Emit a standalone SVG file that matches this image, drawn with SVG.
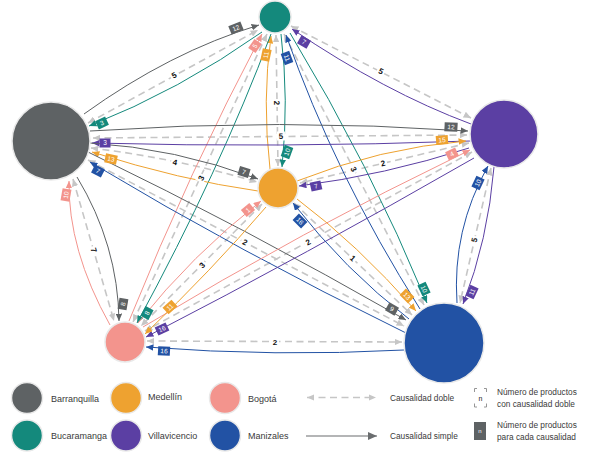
<svg xmlns="http://www.w3.org/2000/svg" width="589" height="462" viewBox="0 0 589 462">
<style>
.dbl{fill:none;stroke:#c6c6c6;stroke-width:1.6;stroke-dasharray:7 4.5;marker-start:url(#ad);marker-end:url(#ad)}
.s{fill:none;stroke-width:1}
.gy{stroke:#5e6264;marker-end:url(#agy)}
.tl{stroke:#14897c;marker-end:url(#atl)}
.pu{stroke:#5b3fa3;marker-end:url(#apu)}
.or{stroke:#eea230;marker-end:url(#aor)}
.pk{stroke:#f3948d;marker-end:url(#apk)}
.bl{stroke:#2252a4;marker-end:url(#abl)}
.nb text{font-family:"Liberation Sans",Arial,sans-serif;font-size:6.5px;fill:#fff;text-anchor:middle}
.dl rect{fill:#fff}
.dl text{font-family:"Liberation Sans",Arial,sans-serif;font-size:8px;font-weight:bold;fill:#111;text-anchor:middle}
.lg{font-family:"Liberation Sans",Arial,sans-serif;font-size:9px;fill:#3a3a3a}
.lg2{font-family:"Liberation Sans",Arial,sans-serif;font-size:8.3px;fill:#3a3a3a}
.nd{stroke:#e9e9e9;stroke-width:1.5}
</style>
<defs>
<marker id="ad" viewBox="0 0 8 7" refX="8" refY="3.5" markerWidth="7.5" markerHeight="6.5" markerUnits="userSpaceOnUse" orient="auto-start-reverse"><path d="M0,0 L8,3.5 L0,7 z" fill="#c6c6c6"/></marker>
<marker id="agy" viewBox="0 0 8 7" refX="8" refY="3.5" markerWidth="7.5" markerHeight="6.5" markerUnits="userSpaceOnUse" orient="auto"><path d="M0,0 L8,3.5 L0,7 z" fill="#5e6264"/></marker>
<marker id="atl" viewBox="0 0 8 7" refX="8" refY="3.5" markerWidth="7.5" markerHeight="6.5" markerUnits="userSpaceOnUse" orient="auto"><path d="M0,0 L8,3.5 L0,7 z" fill="#14897c"/></marker>
<marker id="apu" viewBox="0 0 8 7" refX="8" refY="3.5" markerWidth="7.5" markerHeight="6.5" markerUnits="userSpaceOnUse" orient="auto"><path d="M0,0 L8,3.5 L0,7 z" fill="#5b3fa3"/></marker>
<marker id="aor" viewBox="0 0 8 7" refX="8" refY="3.5" markerWidth="7.5" markerHeight="6.5" markerUnits="userSpaceOnUse" orient="auto"><path d="M0,0 L8,3.5 L0,7 z" fill="#eea230"/></marker>
<marker id="apk" viewBox="0 0 8 7" refX="8" refY="3.5" markerWidth="7.5" markerHeight="6.5" markerUnits="userSpaceOnUse" orient="auto"><path d="M0,0 L8,3.5 L0,7 z" fill="#f3948d"/></marker>
<marker id="abl" viewBox="0 0 8 7" refX="8" refY="3.5" markerWidth="7.5" markerHeight="6.5" markerUnits="userSpaceOnUse" orient="auto"><path d="M0,0 L8,3.5 L0,7 z" fill="#2252a4"/></marker>
<marker id="alg" viewBox="0 0 8 7" refX="8" refY="3.5" markerWidth="9" markerHeight="8" markerUnits="userSpaceOnUse" orient="auto"><path d="M0,0 L8,3.5 L0,7 z" fill="#6a6d6f"/></marker>
</defs>
<rect width="589" height="462" fill="#fff"/>

<g id="connectors">
<path class="dbl" d="M88 123 L258 30"/>
<path class="dbl" d="M291 26 L471 118"/>
<path class="dbl" d="M276 35 L278 166"/>
<path class="dbl" d="M267 34 L133 322"/>
<path class="dbl" d="M284 34 L424 305"/>
<path class="dbl" d="M93 138 L467 135"/>
<path class="dbl" d="M91 148 Q175 158 257 182"/>
<path class="dbl" d="M73 179 L114 321"/>
<path class="dbl" d="M88 160 L404 326"/>
<path class="dbl" d="M469 143 L300 183"/>
<path class="dbl" d="M472 152 L145 331"/>
<path class="dbl" d="M491 168 L460 303"/>
<path class="dbl" d="M262 204 L141 326"/>
<path class="dbl" d="M294 203 L412 315"/>
<path class="dbl" d="M147 341 L402 342"/>

<path class="s gy" d="M84 114 Q170 52 259 25"/>
<path class="s tl" d="M262 32 Q180 90 89 126"/>
<path class="s pu" d="M471 124 Q385 92 292 29"/>
<path class="s or" d="M270 169 Q262 100 271 36"/>
<path class="s tl" d="M281 34 Q289 100 282 167"/>
<path class="s pk" d="M129 321 Q190 170 262 34"/>
<path class="s tl" d="M271 34 Q220 170 137 323"/>
<path class="s bl" d="M420 309 Q335 175 286 35"/>
<path class="s tl" d="M290 33 Q370 165 427 303"/>
<path class="s gy" d="M90 131 Q280 118 468 131"/>
<path class="s pu" d="M470 141 Q280 148 92 143"/>
<path class="s gy" d="M90 143 Q175 148 258 179"/>
<path class="s or" d="M258 191 Q180 180 92 152"/>
<path class="s pk" d="M110 325 Q68 250 69 181"/>
<path class="s gy" d="M77 177 Q118 245 119 321"/>
<path class="s gy" d="M88 152 Q245 228 406 320"/>
<path class="s bl" d="M406 333 Q240 252 90 162"/>
<path class="s or" d="M297 181 Q380 148 466 141"/>
<path class="s pu" d="M469 148 Q385 175 299 186"/>
<path class="s pk" d="M143 327 Q300 232 470 150"/>
<path class="s pu" d="M474 158 Q305 255 146 337"/>
<path class="s bl" d="M457 303 Q452 230 488 166"/>
<path class="s pu" d="M494 167 Q488 240 463 304"/>
<path class="s pk" d="M138 323 Q192 255 261 201"/>
<path class="s or" d="M266 207 Q212 270 145 334"/>
<path class="s or" d="M297 199 Q357 244 416 311"/>
<path class="s bl" d="M409 319 Q345 270 293 203"/>
<path class="s bl" d="M404 350 Q275 357 146 347"/>

<g class="dl">
<g transform="translate(174,75) rotate(-29)"><rect x="-4" y="-4.5" width="8" height="9"/><text y="3">5</text></g>
<g transform="translate(381,71) rotate(27)"><rect x="-4" y="-4.5" width="8" height="9"/><text y="3">5</text></g>
<g transform="translate(277,103) rotate(89)"><rect x="-4" y="-4.5" width="8" height="9"/><text y="3">2</text></g>
<g transform="translate(201,178) rotate(-65)"><rect x="-4" y="-4.5" width="8" height="9"/><text y="3">3</text></g>
<g transform="translate(354,169) rotate(63)"><rect x="-4" y="-4.5" width="8" height="9"/><text y="3">3</text></g>
<g transform="translate(281,136) rotate(-1)"><rect x="-4" y="-4.5" width="8" height="9"/><text y="3">5</text></g>
<g transform="translate(175,162) rotate(12)"><rect x="-4" y="-4.5" width="8" height="9"/><text y="3">4</text></g>
<g transform="translate(94,250) rotate(74)"><rect x="-4" y="-4.5" width="8" height="9"/><text y="3">7</text></g>
<g transform="translate(245,242) rotate(27)"><rect x="-4" y="-4.5" width="8" height="9"/><text y="3">2</text></g>
<g transform="translate(383,163) rotate(-13)"><rect x="-4" y="-4.5" width="8" height="9"/><text y="3">2</text></g>
<g transform="translate(308,242) rotate(-29)"><rect x="-4" y="-4.5" width="8" height="9"/><text y="3">2</text></g>
<g transform="translate(474,240) rotate(-77)"><rect x="-4" y="-4.5" width="8" height="9"/><text y="3">5</text></g>
<g transform="translate(202,265) rotate(-45)"><rect x="-4" y="-4.5" width="8" height="9"/><text y="3">3</text></g>
<g transform="translate(353,258) rotate(43)"><rect x="-4" y="-4.5" width="8" height="9"/><text y="3">1</text></g>
<g transform="translate(275,342)"><rect x="-4" y="-4.5" width="8" height="9"/><text y="3">2</text></g>
</g>

<g class="nb">
<g transform="translate(236,28) rotate(-22)"><rect x="-6.5" y="-4.5" width="13" height="9" fill="#5e6264"/><text y="2.3">12</text></g>
<g transform="translate(102,123) rotate(-25)"><rect x="-5.5" y="-4.5" width="11" height="9" fill="#14897c"/><text y="2.3">3</text></g>
<g transform="translate(255,46) rotate(-55)"><rect x="-5.5" y="-4.5" width="11" height="9" fill="#f3948d"/><text y="2.3">5</text></g>
<g transform="translate(266,55) rotate(-78)"><rect x="-6" y="-4.5" width="12" height="9" fill="#eea230"/><text y="2.3">11</text></g>
<g transform="translate(287,58) rotate(70)"><rect x="-6" y="-4.5" width="12" height="9" fill="#2252a4"/><text y="2.3">11</text></g>
<g transform="translate(304,42) rotate(30)"><rect x="-5.5" y="-4.5" width="11" height="9" fill="#5b3fa3"/><text y="2.3">7</text></g>
<g transform="translate(287,152) rotate(-70)"><rect x="-6" y="-4.5" width="12" height="9" fill="#14897c"/><text y="2.3">10</text></g>
<g transform="translate(244,172) rotate(17)"><rect x="-5.5" y="-4.5" width="11" height="9" fill="#5e6264"/><text y="2.3">7</text></g>
<g transform="translate(316,186) rotate(-13)"><rect x="-5.5" y="-4.5" width="11" height="9" fill="#5b3fa3"/><text y="2.3">7</text></g>
<g transform="translate(248,210) rotate(-40)"><rect x="-5.5" y="-4.5" width="11" height="9" fill="#f3948d"/><text y="2.3">1</text></g>
<g transform="translate(300,221) rotate(45)"><rect x="-6" y="-4.5" width="12" height="9" fill="#2252a4"/><text y="2.3">16</text></g>
<g transform="translate(451,127) rotate(3)"><rect x="-6.5" y="-4.5" width="13" height="9" fill="#5e6264"/><text y="2.3">12</text></g>
<g transform="translate(442,140) rotate(-4)"><rect x="-6" y="-4.5" width="12" height="9" fill="#eea230"/><text y="2.3">15</text></g>
<g transform="translate(452,154) rotate(-25)"><rect x="-5.5" y="-4.5" width="11" height="9" fill="#f3948d"/><text y="2.3">4</text></g>
<g transform="translate(478,183) rotate(-65)"><rect x="-6" y="-4.5" width="12" height="9" fill="#2252a4"/><text y="2.3">10</text></g>
<g transform="translate(105,143)"><rect x="-5.5" y="-4.5" width="11" height="9" fill="#5b3fa3"/><text y="2.3">3</text></g>
<g transform="translate(111,159) rotate(12)"><rect x="-6" y="-4.5" width="12" height="9" fill="#eea230"/><text y="2.3">13</text></g>
<g transform="translate(98,171) rotate(27)"><rect x="-5.5" y="-4.5" width="11" height="9" fill="#2252a4"/><text y="2.3">7</text></g>
<g transform="translate(66,195) rotate(-80)"><rect x="-6" y="-4.5" width="12" height="9" fill="#f3948d"/><text y="2.3">10</text></g>
<g transform="translate(123,304) rotate(-80)"><rect x="-5.5" y="-4.5" width="11" height="9" fill="#5e6264"/><text y="2.3">8</text></g>
<g transform="translate(147,313) rotate(-62)"><rect x="-5.5" y="-4.5" width="11" height="9" fill="#14897c"/><text y="2.3">8</text></g>
<g transform="translate(170,307) rotate(-42)"><rect x="-6" y="-4.5" width="12" height="9" fill="#eea230"/><text y="2.3">11</text></g>
<g transform="translate(162,329) rotate(-25)"><rect x="-6" y="-4.5" width="12" height="9" fill="#5b3fa3"/><text y="2.3">16</text></g>
<g transform="translate(164,351) rotate(3)"><rect x="-6" y="-4.5" width="12" height="9" fill="#2252a4"/><text y="2.3">16</text></g>
<g transform="translate(424,289) rotate(65)"><rect x="-6" y="-4.5" width="12" height="9" fill="#14897c"/><text y="2.3">10</text></g>
<g transform="translate(407,296) rotate(45)"><rect x="-6" y="-4.5" width="12" height="9" fill="#eea230"/><text y="2.3">13</text></g>
<g transform="translate(392,309) rotate(30)"><rect x="-5.5" y="-4.5" width="11" height="9" fill="#5e6264"/><text y="2.3">9</text></g>
<g transform="translate(472,292) rotate(-65)"><rect x="-6" y="-4.5" width="12" height="9" fill="#5b3fa3"/><text y="2.3">11</text></g>
</g>
</g>

<g id="bucaramanga"><circle class="nd" cx="275" cy="17" r="16" fill="#14897c"/></g>
<g id="barranquilla"><circle class="nd" cx="51" cy="141" r="39" fill="#5e6264"/></g>
<g id="villavicencio"><circle class="nd" cx="504" cy="134" r="34" fill="#5b3fa3"/></g>
<g id="medellin"><circle class="nd" cx="278" cy="188" r="20" fill="#eea230"/></g>
<g id="bogota"><circle class="nd" cx="125" cy="342" r="20" fill="#f3948d"/></g>
<g id="manizales"><circle class="nd" cx="444" cy="343" r="40" fill="#2252a4"/></g>

<g id="legend">
<circle class="nd" cx="27" cy="398" r="15.5" fill="#5e6264"/>
<text class="lg" x="51" y="402">Barranquilla</text>
<circle class="nd" cx="126" cy="398" r="15.5" fill="#eea230"/>
<text class="lg" x="148" y="400">Medellín</text>
<circle class="nd" cx="225" cy="398" r="15.5" fill="#f3948d"/>
<text class="lg" x="248" y="402">Bogotá</text>
<circle class="nd" cx="27" cy="435.5" r="15.5" fill="#14897c"/>
<text class="lg" x="51" y="439">Bucaramanga</text>
<circle class="nd" cx="126" cy="435.5" r="15.5" fill="#5b3fa3"/>
<text class="lg" x="148" y="439">Villavicencio</text>
<circle class="nd" cx="225" cy="435.5" r="15.5" fill="#2252a4"/>
<text class="lg" x="248" y="439">Manizales</text>

<path class="dbl" d="M307 397.5 L376 397.5"/>
<text class="lg2" x="390" y="401">Causalidad doble</text>
<path d="M306 436 L377 436" fill="none" stroke="#6a6d6f" stroke-width="1.2" marker-end="url(#alg)"/>
<text class="lg2" x="390" y="439">Causalidad simple</text>
<path d="M477 388.5 H474.5 V392 M484 388.5 H486.5 V392 M477 407 H474.5 V403.5 M484 407 H486.5 V403.5" fill="none" stroke="#8a8a8a" stroke-width="0.9"/>
<text x="480.5" y="400.5" font-family="Liberation Sans, Arial, sans-serif" font-size="7" fill="#222" text-anchor="middle">n</text>
<text class="lg2" x="497" y="395">Número de productos</text>
<text class="lg2" x="497" y="407">con causalidad doble</text>
<rect x="474" y="422" width="12" height="18" fill="#5e6264"/>
<text x="480" y="433" font-family="Liberation Sans, Arial, sans-serif" font-size="6" fill="#fff" text-anchor="middle">n</text>
<text class="lg2" x="497" y="428">Número de productos</text>
<text class="lg2" x="497" y="440">para cada causalidad</text>
</g>
</svg>
